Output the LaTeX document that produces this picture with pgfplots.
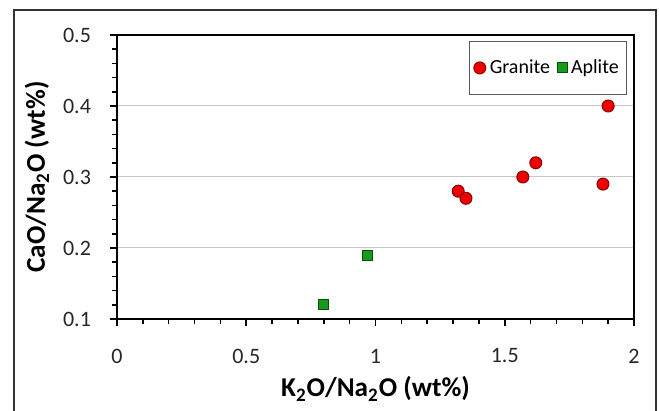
\documentclass[border=0pt]{standalone}
\usepackage{pgfplots}
\pgfplotsset{compat=1.18}
\usepackage{fontspec}
\setmainfont{Carlito}
\definecolor{granitefill}{HTML}{EE0000}
\definecolor{graniteedge}{HTML}{8B0000}
\definecolor{aplitefill}{HTML}{1A9A1A}
\definecolor{apliteedge}{HTML}{0B4D0B}
\pgfplotsset{dotlegend/.style={legend image code/.code={\draw[##1] plot coordinates {(0pt,0pt)};}}}
\begin{document}
\begin{tikzpicture}
\begin{axis}[
  at={(0,0)}, anchor=south west,
  scale only axis, width=258.5pt, height=142pt,
  xmin=0, xmax=2, ymin=0.1, ymax=0.5,
  xtick={0,0.5,1,1.5,2}, ytick={0.1,0.2,0.3,0.4,0.5},
  minor x tick num=4, minor y tick num=4,
  tick align=outside, xtick pos=bottom, ytick pos=left,
  major tick length=3.5pt, minor tick length=2.5pt,
  tick style={black, line width=0.8pt},
  axis line style={black, line width=1pt},
  ymajorgrids, major grid style={gray!45, line width=0.5pt},
  /pgf/number format/assume math mode=true,
  tick label style={font=\fontsize{11}{13}\selectfont, text=black!85},
  xticklabel style={anchor=center, yshift=-15pt},
  yticklabel style={anchor=east, xshift=-6pt},
  xlabel={\fontsize{13.6}{15}\selectfont\bfseries K\textsubscript{2}O/Na\textsubscript{2}O (wt\%)},
  ylabel={\fontsize{13.6}{15}\selectfont\bfseries CaO/Na\textsubscript{2}O (wt\%)},
  every axis x label/.style={at={(axis description cs:0.5,-0.246)}, anchor=center},
  every axis y label/.style={at={(axis description cs:-0.155,0.5)}, anchor=center, rotate=90},
  legend columns=2,
  legend style={at={(0.987,0.979)}, anchor=north east, draw=black!65, line width=0.5pt,
    inner ysep=7pt, inner xsep=2pt, font=\fontsize{10}{12}\selectfont,
    /tikz/every even column/.append style={column sep=1.5pt},
    nodes={inner xsep=2pt}},
  legend cell align=left,
]
\addplot[only marks, mark=*, mark size=3pt, mark options={fill=granitefill, draw=graniteedge, line width=0.5pt}, dotlegend]
  coordinates {(1.90,0.40) (1.62,0.32) (1.57,0.30) (1.88,0.29) (1.32,0.28) (1.35,0.27)};
\addlegendentry{Granite}
\addplot[only marks, mark=square*, mark size=2.5pt, mark options={fill=aplitefill, draw=apliteedge, line width=0.5pt}, dotlegend]
  coordinates {(0.97,0.19) (0.80,0.12)};
\addlegendentry{Aplite}
\end{axis}
\draw[black!80, line width=1pt] (-51.5pt,-70pt) -- (-51.5pt,154.5pt) -- (269.5pt,154.5pt) -- (269.5pt,-70pt);
\pgfresetboundingbox
\path (-58.5pt,-46pt) rectangle (271pt,159.5pt);
\end{tikzpicture}
\end{document}
